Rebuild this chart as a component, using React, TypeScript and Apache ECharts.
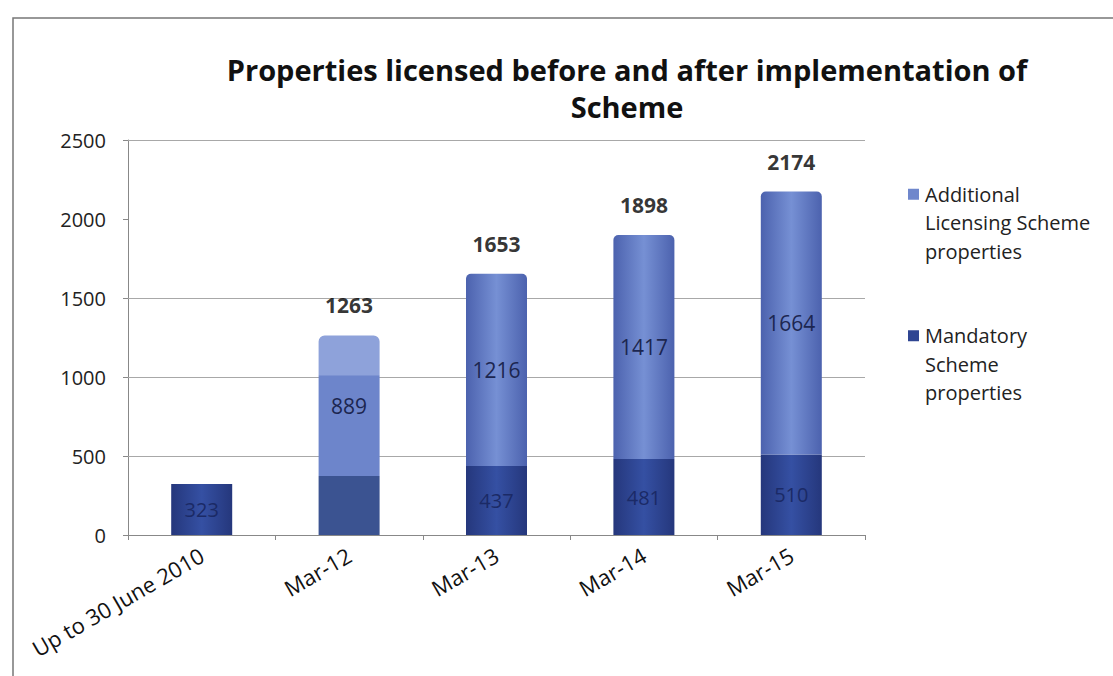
import React, { useEffect, useRef } from "react";
import * as echarts from "echarts";

const categories = ["Up to 30 June 2010", "Mar-12", "Mar-13", "Mar-14", "Mar-15"];
const mandatory = [323, 374, 437, 481, 510];
const additional = [0, 889, 1216, 1417, 1664];
const totals = [null, 1263, 1653, 1898, 2174];
const gridValues = [500, 1000, 1500, 2500];

const SER_ADD = "Additional Licensing Scheme properties";
const SER_MAN = "Mandatory Scheme properties";
const legendLines: Record<string, string> = {
  [SER_ADD]: "{sqA|}{g|}{t|Additional}\n{p|}{t|Licensing Scheme}\n{p|}{t|properties}",
  [SER_MAN]: "{sqM|}{g|}{t|Mandatory}\n{p|}{t|Scheme}\n{p|}{t|properties}",
};

const FONT = "Open Sans";

const hGrad = (edge: string, mid: string) =>
  new echarts.graphic.LinearGradient(0, 0, 1, 0, [
    { offset: 0, color: edge },
    { offset: 0.5, color: mid },
    { offset: 1, color: edge },
  ]);

export default function App() {
  const ref = useRef<HTMLDivElement>(null);
  useEffect(() => {
    if (!ref.current) return;
    const chart = echarts.init(ref.current, undefined, { renderer: "svg" });
    const manColor = hGrad("#25377C", "#3550A3");
    const addColor = hGrad("#4C62AE", "#7690D4");
    chart.setOption({
      animation: false,
      backgroundColor: "#ffffff",
      title: {
        text: "Properties licensed before and after implementation of\nScheme",
        left: 622,
        textAlign: "center",
        top: 46,
        textStyle: {
          fontFamily: FONT,
          fontWeight: "bold",
          fontSize: 29,
          lineHeight: 37,
          color: "#111",
        },
      },
      graphic: [
        {
          type: "polyline",
          shape: { points: [[13, 676], [13, 18], [1113, 18]] },
          style: { stroke: "#777", lineWidth: 1.5, fill: "none" },
          silent: true,
        },
      ],
      legend: {
        data: [SER_ADD, SER_MAN],
        orient: "vertical",
        left: 898,
        top: 175,
        itemWidth: 0,
        itemHeight: 0,
        itemGap: 56,
        itemStyle: { opacity: 0 },
        formatter: (n: string) => legendLines[n] || n,
        textStyle: {
          fontFamily: FONT,
          fontSize: 20,
          lineHeight: 28.5,
          color: "#222",
          rich: {
            sqA: { width: 11, height: 11, backgroundColor: "#6F87CC" },
            sqM: { width: 11, height: 11, backgroundColor: "#2F4592" },
            g: { width: 6 },
            p: { width: 17 },
            t: { fontFamily: FONT, fontSize: 20, lineHeight: 28.5, color: "#222" },
          },
        },
      },
      grid: { left: 128, right: 248, top: 140, bottom: 141 },
      xAxis: {
        type: "category",
        data: categories,
        axisLine: { lineStyle: { color: "#888" } },
        axisTick: { show: true, lineStyle: { color: "#888" }, length: 5 },
        axisLabel: {
          rotate: 30,
          fontFamily: FONT,
          fontSize: 22,
          color: "#111",
          margin: 18,
          interval: 0,
        },
      },
      yAxis: {
        type: "value",
        min: 0,
        max: 2500,
        interval: 500,
        axisLine: { show: true, lineStyle: { color: "#888" } },
        axisTick: { show: true, lineStyle: { color: "#888" }, length: 5 },
        splitLine: { show: false },
        axisLabel: {
          fontFamily: FONT,
          fontSize: 20,
          color: "#222",
          margin: 22,
          formatter: (v: number) => String(v),
        },
      },
      series: [
        {
          name: SER_MAN,
          type: "bar",
          stack: "s",
          barWidth: 61,
          z: 3,
          data: mandatory.map((v, i) =>
            i === 1
              ? { value: v, itemStyle: { color: "#3B5391" }, label: { show: false } }
              : { value: v }
          ),
          itemStyle: { color: manColor },
          label: {
            show: true,
            position: "inside",
            fontFamily: FONT,
            fontSize: 20,
            color: "#1B2A66",
          },
          markLine: {
            silent: true,
            z: 1,
            symbol: "none",
            label: { show: false },
            lineStyle: { color: "#a8a8a8", type: "solid", width: 1 },
            data: gridValues.map((v) => ({ yAxis: v })),
          },
        },
        {
          name: SER_ADD,
          type: "bar",
          stack: "s",
          barWidth: 61,
          z: 3,
          data: additional.map((v, i) =>
            i === 1
              ? {
                  value: v,
                  itemStyle: {
                    color: new echarts.graphic.LinearGradient(0, 0, 0, 1, [
                      { offset: 0, color: "#8EA2DA" },
                      { offset: 0.28, color: "#8EA2DA" },
                      { offset: 0.29, color: "#6D85CB" },
                      { offset: 1, color: "#6D85CB" },
                    ]),
                    borderRadius: [6, 6, 0, 0],
                  },
                }
              : { value: v }
          ),
          itemStyle: { color: addColor, borderRadius: [5, 5, 0, 0] },
          label: {
            show: true,
            position: "inside",
            fontFamily: FONT,
            fontSize: 21,
            color: "#1C2650",
            formatter: (p: any) => (p.value ? String(p.value) : ""),
          },
        },
        {
          name: "Total",
          type: "scatter",
          data: totals.map((v) => (v == null ? "-" : v)),
          symbol: "rect",
          symbolSize: 1,
          itemStyle: { color: "rgba(0,0,0,0)" },
          silent: true,
          z: 4,
          label: {
            show: true,
            position: "top",
            distance: 19,
            fontFamily: FONT,
            fontWeight: "bold",
            fontSize: 21,
            color: "#000",
            formatter: (p: any) => String(p.value),
          },
        },
      ],
    });
    return () => chart.dispose();
  }, []);
  return (
    <div
      ref={ref}
      style={{ position: "fixed", left: 0, top: 0, width: 1113, height: 676 }}
    />
  );
}
